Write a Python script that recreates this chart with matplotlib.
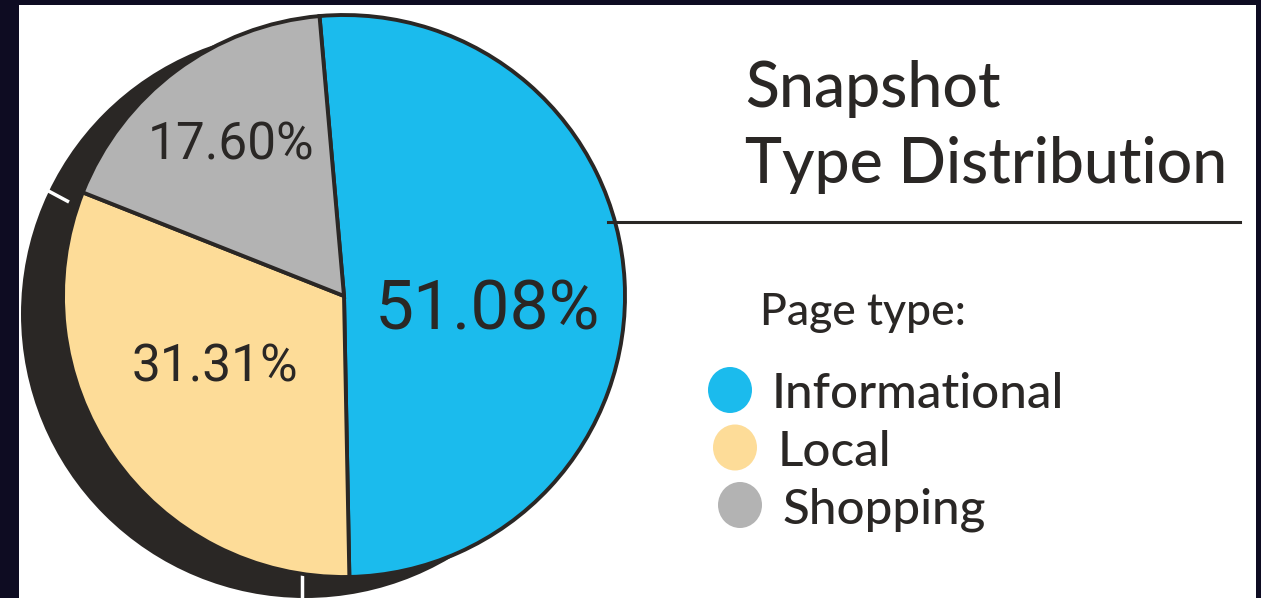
import matplotlib.pyplot as plt
from matplotlib.patches import Circle, Ellipse, Rectangle

# data
page_types = ["Informational", "Local", "Shopping"]
shares = [51.08, 31.31, 17.60]
colors = ["#1bbbed", "#fddc98", "#b3b3b3"]

W, H = 1261, 598
DARK = "#2a2725"


def y(v):
    # image rows (top down) -> data y (bottom up)
    return H - v


fig = plt.figure(figsize=(W / 100, H / 100), dpi=100)
fig.patch.set_facecolor("#0e0c22")
ax = fig.add_axes([0, 0, 1, 1])
ax.set_axis_off()

# white card
ax.add_patch(Rectangle((19, 0), 1237, H - 5, facecolor="white", edgecolor="none", zorder=0))

# dark "depth" disc behind the pie
ax.add_patch(Circle((305, y(314)), 284, facecolor=DARK, edgecolor="none", zorder=1))
ax.plot([41, 69], [y(187), y(202)], color="white", lw=2.5, zorder=1.5, solid_capstyle="butt")
ax.plot([302, 302], [y(572), y(598)], color="white", lw=2.5, zorder=1.5, solid_capstyle="butt")

wedges, _ = ax.pie(shares, colors=colors, startangle=95, counterclock=False,
                   center=(344, y(296)), radius=281,
                   wedgeprops=dict(edgecolor=DARK, linewidth=2.8))
for w in wedges:
    w.set_zorder(2)

label_pos = [(487, 310, 50), (215, 367, 37), (231, 145, 37)]
for v, (lx, ly, fs) in zip(shares, label_pos):
    ax.text(lx, y(ly), f"{v:.2f}%", ha="center", va="center", fontsize=fs,
            family="Roboto", color=DARK, zorder=3)

# title + rule
ax.text(745, y(107), "Snapshot", fontsize=45, family="Lato", weight="medium",
        color=DARK, va="baseline")
ax.text(745, y(183), "Type Distribution", fontsize=45, family="Lato", weight="medium",
        color=DARK, va="baseline")
ax.plot([608, 1240], [y(222), y(222)], color=DARK, lw=2.2)

# legend
ax.text(760, y(325), "Page type:", fontsize=32, family="Lato", weight="medium",
        color=DARK, va="baseline")
for i, (name, c) in enumerate(zip(page_types, colors)):
    cy = 390 + i * 57.5
    ax.add_patch(Ellipse((730 + i * 5, y(cy)), 44, 46, facecolor=c, edgecolor="none"))
    ax.text(772 + i * 5.5, y(cy + 18), name, fontsize=35.5, family="Lato", weight="medium",
            color=DARK, va="baseline")

ax.set_xlim(0, W)
ax.set_ylim(0, H)
ax.set_aspect("auto")

fig.savefig("out.png", dpi=100, facecolor=fig.get_facecolor())
